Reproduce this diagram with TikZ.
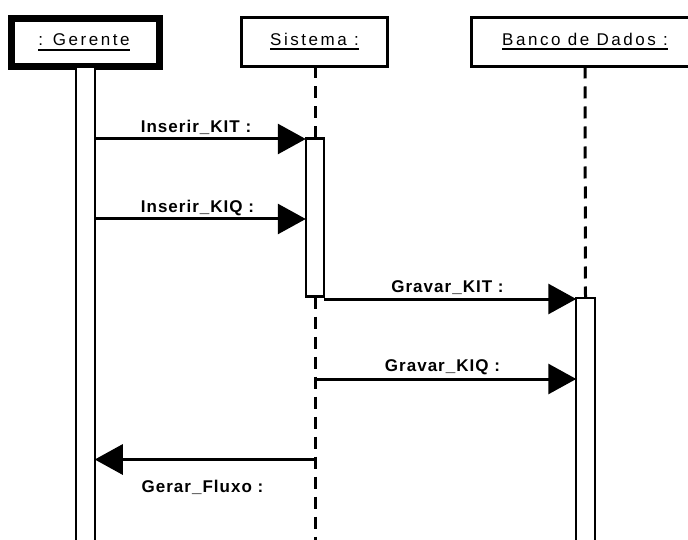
\documentclass[tikz,border=0pt]{standalone}
\usepackage{fontspec}
\setmainfont{Liberation Sans}
\usetikzlibrary{arrows.meta}
\newcommand\myul[1]{\setbox0\hbox{#1}\leavevmode\rlap{\rule[-5pt]{\wd0}{2pt}}\box0}
\tikzset{
  objbox/.style={draw, line width=3pt, inner sep=0pt, outer sep=0pt},
  objname/.style={inner sep=0pt, anchor=base, font=\fontsize{17}{20}\selectfont\addfontfeature{LetterSpace=15}},
  actbar/.style={draw, line width=2.3pt, inner sep=0pt, outer sep=0pt, minimum width=18.5pt, fill=white},
  lifeline/.style={line width=3pt, dash pattern=on 12pt off 8pt},
  msg/.style={line width=3pt, -{Triangle[length=28pt,width=30pt]}},
  msglabel/.style={inner sep=0pt, anchor=base, font=\fontsize{17}{20}\selectfont\bfseries\addfontfeature{LetterSpace=6}}
}
\begin{document}
\begin{tikzpicture}[x=1pt,y=-1pt]
\clip (0,0) rectangle (688,540);
\fill[white] (0,0) rectangle (688,540);
% object boxes
\node[objbox, line width=7pt, minimum width=147.3pt, minimum height=48.2pt] (ger) at (85.35,42.9) {};
\node[objbox, minimum width=146.2pt, minimum height=49pt] (sis) at (314.2,42) {};
\node[objbox, minimum width=240pt, minimum height=49pt] (ban) at (591,42) {};
\node[objname] (gerl) at (84,46) {\myul{: Gerente}};
\node[objname] (sisl) at (314.5,45.5) {\myul{Sistema :}};
\node[objname] (banl) at (585,45.5) {\myul{Banco de Dados :}};
% lifeline ends
\coordinate (sbot) at (315,545);
\coordinate (btop) at (585,66.5);
\coordinate (stop) at (315,66.5);
% activation bars
\node[actbar, minimum height=490pt, anchor=north] (gact) at (85.5,67) {};
\node[actbar, minimum height=158pt, anchor=north] (sact) at (315,138.5) {};
\node[actbar, minimum height=250pt, anchor=north] (bact) at (585.5,298) {};
% lifelines
\draw[lifeline] (stop) -- (sact.north);
\draw[lifeline] (sact.south) -- (sbot);
\draw[lifeline] (btop) -- (bact.north);
% messages
\draw[msg] (gact.east |- 0,139) -- (sact.west |- 0,139);
\node[msglabel] (m1) at (196,133) {Inserir\_KIT :};
\draw[msg] (gact.east |- 0,219) -- (sact.west |- 0,219);
\node[msglabel] (m2) at (197.5,212.3) {Inserir\_KIQ :};
\draw[msg] (sact.east |- 0,299) -- (bact.west |- 0,299);
\node[msglabel] (m3) at (447.5,292.7) {Gravar\_KIT :};
\draw[msg] (sbot |- 0,379) -- (bact.west |- 0,379);
\node[msglabel] (m4) at (442.5,371.7) {Gravar\_KIQ :};
\draw[msg] (sbot |- 0,459.5) -- (gact.east |- 0,459.5);
\node[msglabel] (m5) at (202.5,492.3) {Gerar\_Fluxo :};
\end{tikzpicture}
\end{document}
